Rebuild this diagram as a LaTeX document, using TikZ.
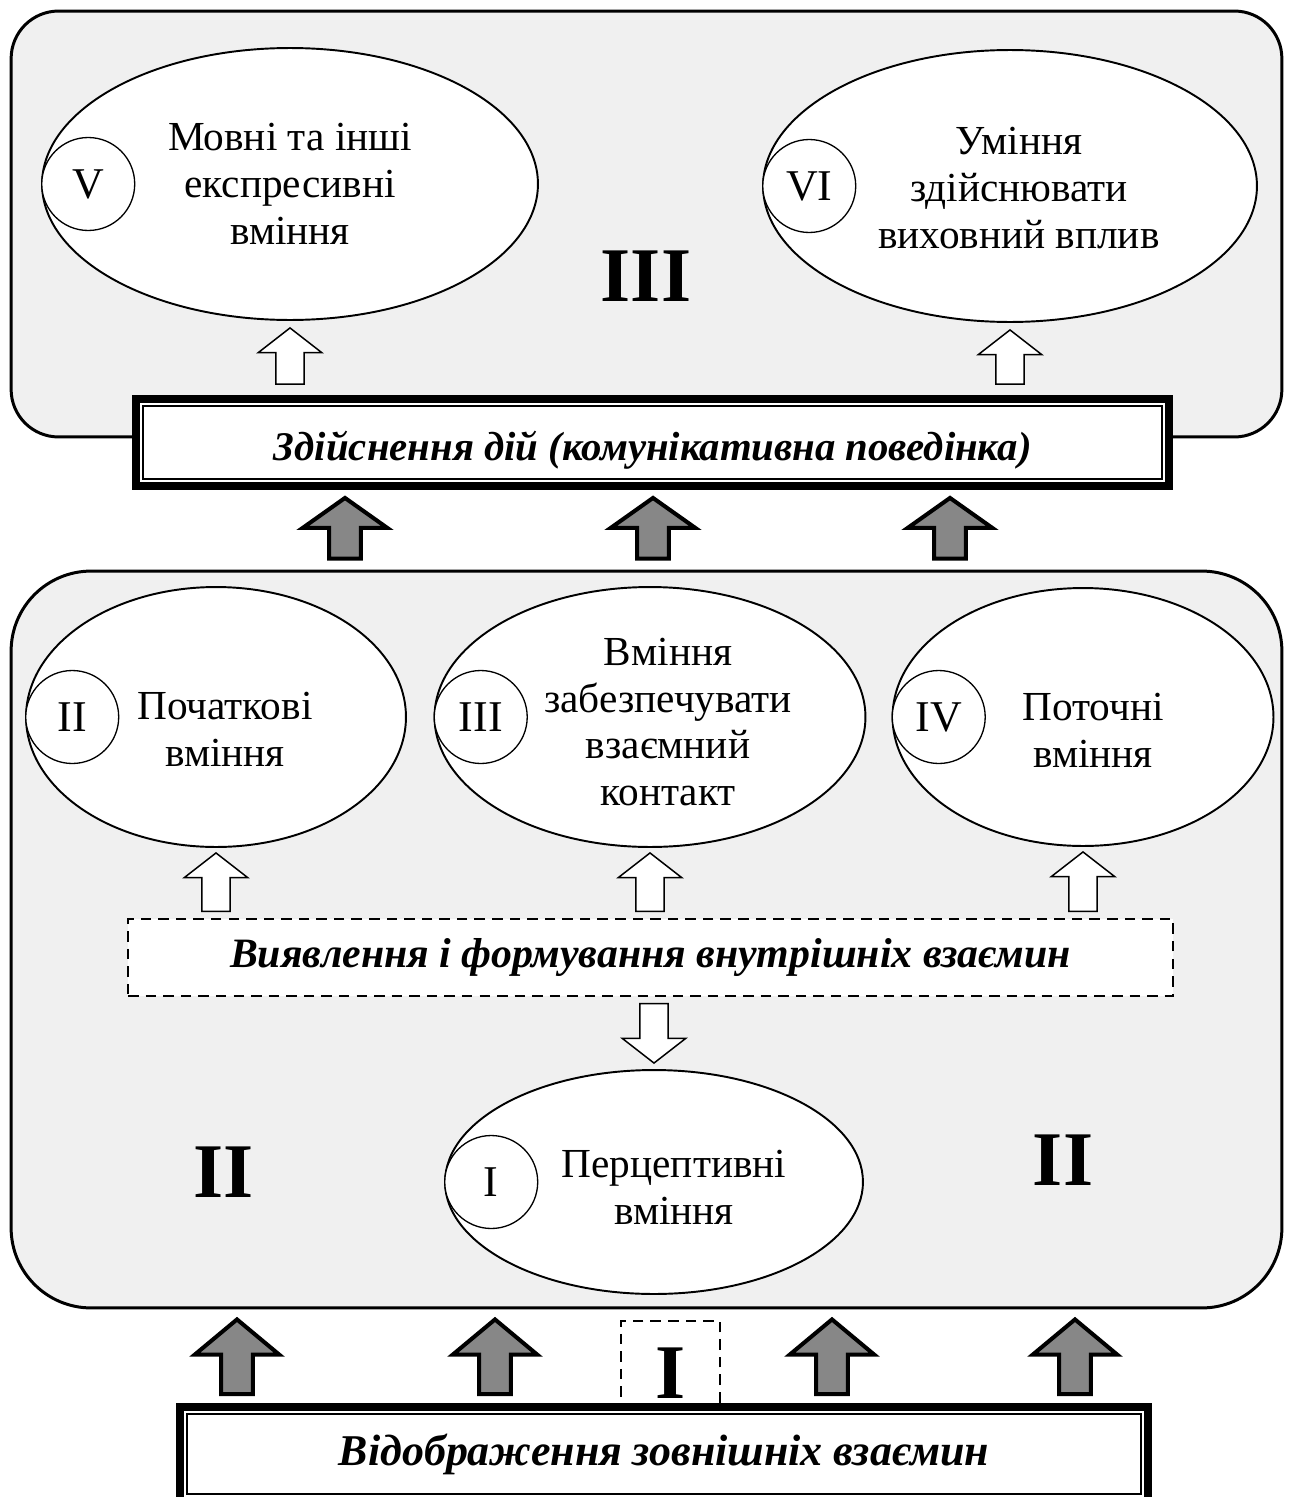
\documentclass[tikz,border=0pt]{standalone}
\usepackage{fontspec}
\setmainfont{Liberation Serif}
\usetikzlibrary{calc,positioning,shapes.geometric}

\definecolor{panelgray}{HTML}{F0F0F0}
\definecolor{arrowgray}{HTML}{878787}

\begin{document}
\begin{tikzpicture}[x=0.02cm,y=-0.02cm,line join=miter]

	\tikzset{
		panel box/.style={draw,line width=1.7pt,fill=panelgray,inner sep=0pt},
		skill ellipse/.style={ellipse,draw,line width=1.1pt,fill=white,inner sep=0pt},
		skill text/.style={align=center,inner sep=0pt,font=\fontsize{23.5}{26.6}\selectfont},
		num circle/.style={circle,draw,line width=0.75pt,fill=white,inner sep=0pt,
				minimum size=1.86cm,font=\fontsize{25}{25}\selectfont},
		big num/.style={inner sep=0pt,font=\fontsize{44}{44}\selectfont\bfseries},
		frame box/.style={draw,line width=4.5pt,fill=white,inner sep=0pt},
		frame inner/.style={draw,line width=1.1pt},
		dashed box/.style={draw,line width=0.8pt,dash pattern=on 6pt off 4pt,fill=white,inner sep=0pt},
		block arrow/.style n args={3}{
				to path={
						let \p1=(\tikztostart), \p2=(\tikztotarget), \p3=($(\p2)!#3!(\p1)$) in
						(\x1-#1,\y1) -- (\x1-#1,\y3) -- (\x1-#2,\y3) -- (\x1,\y2)
						-- (\x1+#2,\y3) -- (\x1+#1,\y3) -- (\x1+#1,\y1) -- cycle
					}
			},
		white arrow/.style={block arrow={8pt}{18pt}{14pt},draw,fill=white,line width=0.85pt},
		gray arrow/.style={block arrow={9pt}{24pt}{#1},draw,fill=arrowgray,line width=2.3pt},
		gray arrow/.default=17pt
	}

	\useasboundingbox (0,0) rectangle (1290,1497);

	% panels
	\node[panel box,rounded corners=0.95cm,minimum width=25.42cm,minimum height=8.52cm] (top) at (646.5,224) {};
	\node[panel box,rounded corners=1.6cm,minimum width=25.42cm,minimum height=14.74cm] (mid) at (646.5,939.5) {};

	% ellipses
	\node[skill ellipse,minimum width=9.92cm,minimum height=5.44cm] (ellV) at (290,184) {};
	\node[skill ellipse,minimum width=9.88cm,minimum height=5.44cm] (ellVI) at (1010,186) {};
	\node[skill ellipse,minimum width=7.6cm,minimum height=5.2cm] (ellII) at (216,717) {};
	\node[skill ellipse,minimum width=8.62cm,minimum height=5.2cm] (ellIII) at (650,717) {};
	\node[skill ellipse,minimum width=7.62cm,minimum height=5.16cm] (ellIV) at (1083,717) {};
	\node[skill ellipse,minimum width=8.36cm,minimum height=4.48cm] (ellI) at (654,1182) {};

	\node[num circle,right=0pt of ellV.west] (nV) {V};
	\node[num circle,right=0pt of ellVI.west] (nVI) {VI};
	\node[num circle,right=0pt of ellII.west] (nII) {II};
	\node[num circle,right=0pt of ellIII.west] (nIII) {III};
	\node[num circle,right=0pt of ellIV.west] (nIV) {IV};
	\node[num circle,right=0pt of ellI.west] (nI) {I};

	\node[skill text] (tV) at (290,184) {Мовні та інші\\експресивні\\вміння};
	\node[skill text] (tVI) at (1019,188) {Уміння\\здійснювати\\виховний вплив};
	\node[skill text] (tII) at (225,729) {Початкові\\вміння};
	\node[skill text] (tIII) at (668,722) {Вміння\\забезпечувати\\взаємний\\контакт};
	\node[skill text] (tIV) at (1093,730) {Поточні\\вміння};
	\node[skill text] (tI) at (674,1187) {Перцептивні\\вміння};

	% level numbers
	\node[big num] (lvlIII) at (646,276) {III};
	\node[big num] (lvlIIa) at (224,1172) {II};
	\node[big num] (lvlIIb) at (1063,1160) {II};

	% boxes
	\node[frame box,font=\fontsize{23.2}{27}\selectfont\bfseries\itshape,text height=21pt,text depth=0pt,
		minimum width=20.66cm,minimum height=1.74cm] (act) at (652.5,442.5)
	{Здійснення дій (комунікативна поведінка)};
	\draw[frame inner] ($(act.south west)+(6pt,6pt)$) rectangle ($(act.north east)+(-6pt,-6pt)$);

	\node[dashed box,font=\fontsize{23.8}{28}\selectfont\bfseries\itshape,
		minimum width=20.9cm,minimum height=1.54cm] (inner) at (650.5,957.5)
	{Виявлення і формування внутрішніх взаємин};

	\node[dashed box,big num,text height=38pt,minimum width=1.98cm,minimum height=1.76cm] (lvlI) at (670.5,1365) {I};

	\node[frame box,font=\fontsize{25}{29}\selectfont\bfseries\itshape,
		minimum width=19.36cm,minimum height=1.88cm] (refl) at (664,1454)
	{Відображення зовнішніх взаємин};
	\draw[frame inner] ($(refl.south west)+(6pt,6pt)$) rectangle ($(refl.north east)+(-6pt,-6pt)$);

	% arrows
	\foreach \e in {ellV,ellVI}
		\draw[white arrow] ($(\e.south |- act.north)+(0,-11)$) to ($(\e.south)+(0,7)$);

	\foreach \e in {ellII,ellIII,ellIV}
		\draw[white arrow] ($(\e.south |- inner.north)+(0,-7)$) to ($(\e.south)+(0,5)$);

	\draw[white arrow] ($(ellI.north |- inner.south)+(0,7)$) to ($(ellI.north)+(0,-6)$);

	\foreach \px in {345,653,950}
		\draw[gray arrow] ($(\px,0 |- mid.north)+(0,-11)$) to ($(\px,0 |- act.south)+(0,8)$);

	\foreach \px in {237,495,832,1075}
		\draw[gray arrow=20pt] ($(\px,0 |- refl.north)+(0,-9)$) to ($(\px,0 |- mid.south)+(0,10)$);
\end{tikzpicture}
\end{document}
